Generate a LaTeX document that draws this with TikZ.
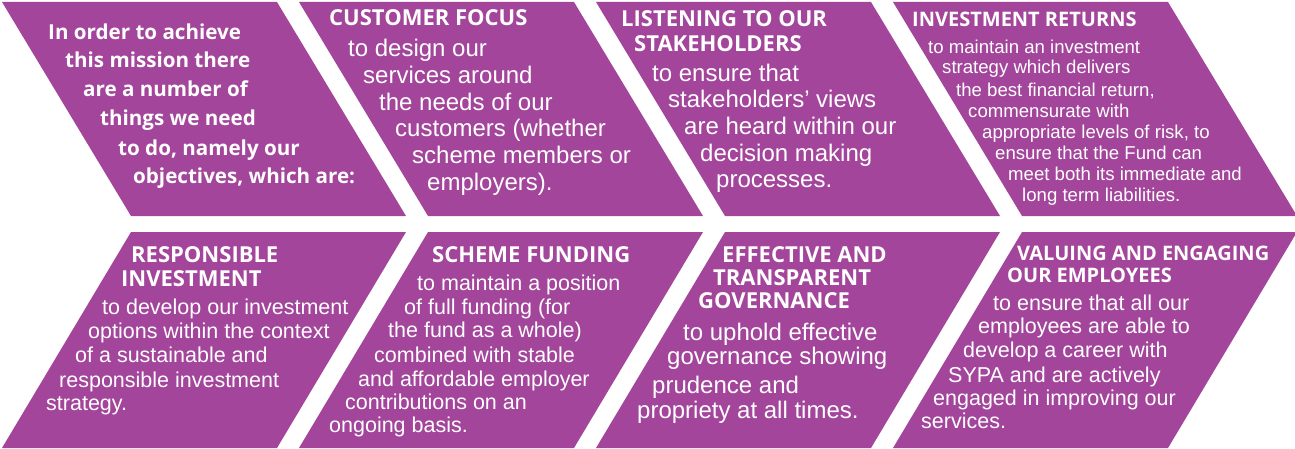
\documentclass[tikz,border=0pt]{standalone}
\usepackage{fontspec}
\setmainfont{Liberation Sans}
\newfontfamily\headfont{Open Sans}
\usepackage{tikz}
\definecolor{SypaPurple}{HTML}{A3459B}

\begin{document}
\begin{tikzpicture}[
  x=1pt, y=-1pt,
  tile/.style={fill=SypaPurple},
  line/.style={anchor=base west, inner sep=0pt, text=white},
  intro/.style={line, font=\headfont\bfseries\fontsize{20.6}{25}\selectfont},
  head/.style={line, font=\headfont\bfseries\fontsize{22}{25}\selectfont},
  smallhead/.style={line, font=\headfont\bfseries\fontsize{20}{24}\selectfont},
  body/.style={line, font=\fontsize{24}{27}\selectfont},
  smallbody/.style={line, font=\fontsize{21.5}{24}\selectfont},
  tinybody/.style={line, font=\fontsize{18.6}{21}\selectfont}
]
\useasboundingbox (0,0) rectangle (1295,449);

% top row leans one way, bottom row the other
\foreach \i in {0,...,3}
  \fill[tile] ({2+297*\i},2) -- ({277+297*\i},2) -- ({406+297*\i},216) -- ({131+297*\i},216) -- cycle;
\foreach \i in {0,...,3}
  \fill[tile] ({131+297*\i},232) -- ({406+297*\i},232) -- ({277+297*\i},448) -- ({2+297*\i},448) -- cycle;

% mission
\foreach \x/\y/\t [count=\i] in {48/39.5/In order to achieve, 65/68/this mission there, 83/97/are a number of,
    100/126/things we need, 118/155.5/{to do, namely our}, 133/184/{objectives, which are:}}
  \node[intro] (mission-\i) at (\x,\y) {\t};

% customer focus
\node[head] (customer) at (329,26) {CUSTOMER FOCUS};
\foreach \x/\y/\t [count=\i] in {348/57/to design our, 363/84/services around, 379/111/the needs of our,
    395/137/customers (whether, 412/164/scheme members or, 427/191/employers).}
  \node[body] (customer-\i) at (\x,\y) {\t};

% listening
\node[head] (listening) at (621,27) {LISTENING TO OUR};
\node[head] (listening-b) at (634,52) {STAKEHOLDERS};
\foreach \x/\y/\t [count=\i] in {652/82/to ensure that, 668/108/stakeholders’ views, 684/135/are heard within our,
    700/162/decision making, 716/188/processes.}
  \node[body] (listening-\i) at (\x,\y) {\t};

% investment returns
\node[smallhead] (returns) at (912,27) {INVESTMENT RETURNS};
\foreach \x/\y/\t [count=\i] in {928/53.3/to maintain an investment, 942/74/strategy which delivers,
    956/96.7/{the best financial return,}, 968/117.3/commensurate with, 982/138.3/{appropriate levels of risk, to},
    995/160/ensure that the Fund can, 1008/181/meet both its immediate and, 1022/202/long term liabilities.}
  \node[tinybody] (returns-\i) at (\x,\y) {\t};

% responsible investment
\node[head] (responsible) at (131,262) {RESPONSIBLE};
\node[head] (responsible-b) at (121,286) {INVESTMENT};
\foreach \x/\y/\t [count=\i] in {102/314/to develop our investment, 88/338/options within the context,
    75/362/of a sustainable and, 59/387/responsible investment, 46/410/strategy.}
  \node[smallbody] (responsible-\i) at (\x,\y) {\t};

% scheme funding
\node[head] (funding) at (432,262) {SCHEME FUNDING};
\foreach \x/\y/\t [count=\i] in {417/290/to maintain a position, 404/314/of full funding (for,
    388/337/the fund as a whole), 374/362/combined with stable, 358/386/and affordable employer,
    345/409/contributions on an, 329/432/ongoing basis.}
  \node[smallbody] (funding-\i) at (\x,\y) {\t};

% governance
\node[head] (governance) at (722,262) {EFFECTIVE AND};
\node[head] (governance-b) at (713,285) {TRANSPARENT};
\node[head] (governance-c) at (698,308) {GOVERNANCE};
\foreach \x/\y/\t [count=\i] in {683/340/to uphold effective, 667/364/governance showing,
    652/393/prudence and, 637/418/propriety at all times.}
  \node[body] (governance-\i) at (\x,\y) {\t};

% employees
\node[smallhead] (employees) at (1017,260) {VALUING AND ENGAGING};
\node[smallhead] (employees-b) at (1007,282) {OUR EMPLOYEES};
\foreach \x/\y/\t [count=\i] in {993/310/to ensure that all our, 978/333/employees are able to,
    963/357/develop a career with, 948/382/SYPA and are actively, 933/405/engaged in improving our,
    921/428/services.}
  \node[smallbody] (employees-\i) at (\x,\y) {\t};
\end{tikzpicture}
\end{document}
